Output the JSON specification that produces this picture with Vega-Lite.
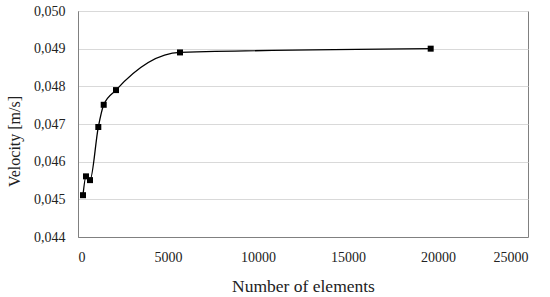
{
  "$schema": "https://vega.github.io/schema/vega-lite/v6.json",
  "width": 450,
  "height": 226,
  "autosize": {"type": "none"},
  "padding": {"left": 78, "top": 11, "right": 22, "bottom": 60},
  "config": {
    "locale": {"number": {"decimal": ",", "thousands": "", "grouping": [3], "currency": ["", ""]}},
    "view": {"stroke": "#808080", "strokeWidth": 1},
    "font": "Liberation Serif"
  },
  "data": {
    "values": [
      {"n": 278, "v": 0.04511},
      {"n": 444, "v": 0.04561},
      {"n": 667, "v": 0.04551},
      {"n": 1128, "v": 0.04692},
      {"n": 1428, "v": 0.04751},
      {"n": 2111, "v": 0.04790},
      {"n": 5667, "v": 0.04890},
      {"n": 19594, "v": 0.04900}
    ]
  },
  "encoding": {
    "x": {
      "field": "n", "type": "quantitative",
      "scale": {"domain": [0, 25000], "nice": false},
      "axis": {
        "values": [0, 5000, 10000, 15000, 20000, 25000],
        "format": "d",
        "title": "Number of elements",
        "grid": false, "ticks": false,
        "domainColor": "#808080",
        "labelFont": "Liberation Serif", "titleFont": "Liberation Serif",
        "labelFontSize": 14, "labelColor": "#222", "labelPadding": 13,
        "titleFontSize": 17.5, "titleFontWeight": "normal", "titleColor": "#222", "titlePadding": 13
      }
    },
    "y": {
      "field": "v", "type": "quantitative",
      "scale": {"domain": [0.044, 0.050], "nice": false, "zero": false},
      "axis": {
        "values": [0.044, 0.045, 0.046, 0.047, 0.048, 0.049, 0.050],
        "format": ".3f",
        "title": "Velocity [m/s]",
        "grid": true, "gridColor": "#d9d9d9", "ticks": false,
        "domainColor": "#808080",
        "labelFont": "Liberation Serif", "titleFont": "Liberation Serif",
        "labelFontSize": 14, "labelColor": "#222", "labelPadding": 13,
        "titleFontSize": 16, "titleFontWeight": "normal", "titleColor": "#222", "titlePadding": 11,
        "titleY": 130, "titleAlign": "center"
      }
    }
  },
  "layer": [
    {"mark": {"type": "line", "interpolate": "monotone", "color": "#000", "strokeWidth": 1.3}},
    {"mark": {"type": "point", "shape": "square", "filled": true, "color": "#000", "size": 36, "opacity": 1}}
  ]
}
